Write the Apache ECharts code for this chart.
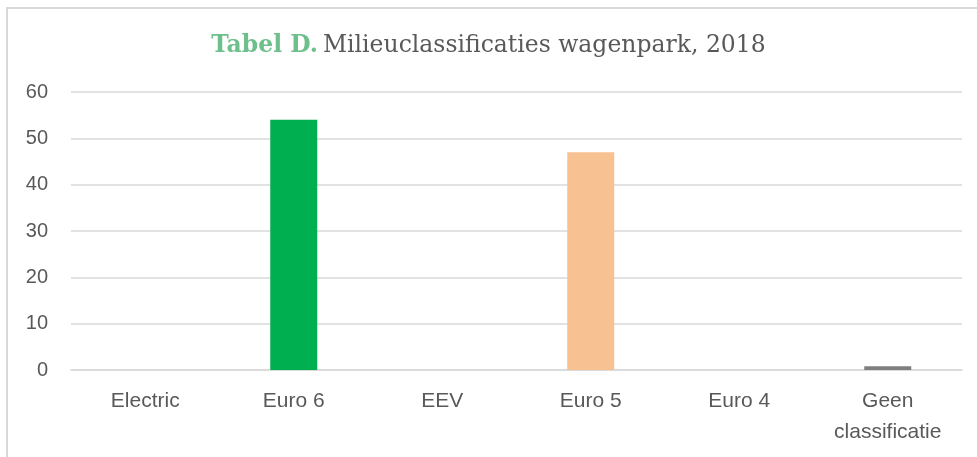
<!DOCTYPE html>
<html>
<head>
<meta charset="utf-8">
<script src="https://cdn.jsdelivr.net/npm/echarts@6/dist/echarts.min.js"></script>
<style>
  html, body { margin: 0; padding: 0; background: #fff; overflow: hidden; }
  #frame {
    position: absolute; left: 6px; top: 7px; width: 990px; height: 470px;
    border-top: 2px solid #d9d9d9; border-left: 2px solid #d9d9d9;
  }
  #main { position: absolute; left: 0; top: 0; width: 977px; height: 457px; }
</style>
</head>
<body>
<div id="frame"></div>
<div id="main"></div>
<script>
// categorieën en waarden (aantal voertuigen)
var categories = ["Electric", "Euro 6", "EEV", "Euro 5", "Euro 4", "Geen\nclassificatie"];
var values = [0, 54, 0, 47, 0, 0.8];
var barColors = ["#00b050", "#00b050", "#00b050", "#f8c191", "#f8c191", "#7f7f7f"];
var yTicks = [0, 10, 20, 30, 40, 50, 60];

var chart = echarts.init(document.getElementById("main"));

var seriesData = [];
for (var i = 0; i < values.length; i++) {
  seriesData.push({ value: values[i], itemStyle: { color: barColors[i] } });
}

var option = {
  animation: false,
  title: {
    text: "{a|Tabel D.} {b|Milieuclassificaties wagenpark, 2018}",
    left: "center",
    top: 29,
    textStyle: {
      fontWeight: "normal",
      rich: {
        a: { fontFamily: "DejaVu Serif", fontSize: 23.5, fontWeight: "bold", color: "#6dbf8b" },
        b: { fontFamily: "DejaVu Serif", fontSize: 23.5, fontWeight: "normal", color: "#595959" }
      }
    }
  },
  grid: {
    left: 71,
    right: 15,
    top: 92,
    bottom: 87
  },
  xAxis: {
    type: "category",
    data: categories,
    axisTick: { show: false },
    axisLine: { lineStyle: { color: "#d9d9d9", width: 1.5 } },
    axisLabel: {
      color: "#595959",
      fontFamily: "Liberation Sans",
      fontSize: 21,
      margin: 16,
      lineHeight: 31
    }
  },
  yAxis: {
    type: "value",
    min: yTicks[0],
    max: yTicks[yTicks.length - 1],
    interval: 10,
    axisLine: { show: false },
    axisTick: { show: false },
    splitLine: { lineStyle: { color: "#d9d9d9", width: 1.5 } },
    axisLabel: {
      color: "#595959",
      fontFamily: "Liberation Sans",
      fontSize: 20,
      margin: 23
    }
  },
  series: [{
    type: "bar",
    data: seriesData,
    barWidth: 47
  }]
};

chart.setOption(option, true);
window.addEventListener("resize", function () {
  chart.resize();
});
</script>
</body>
</html>
